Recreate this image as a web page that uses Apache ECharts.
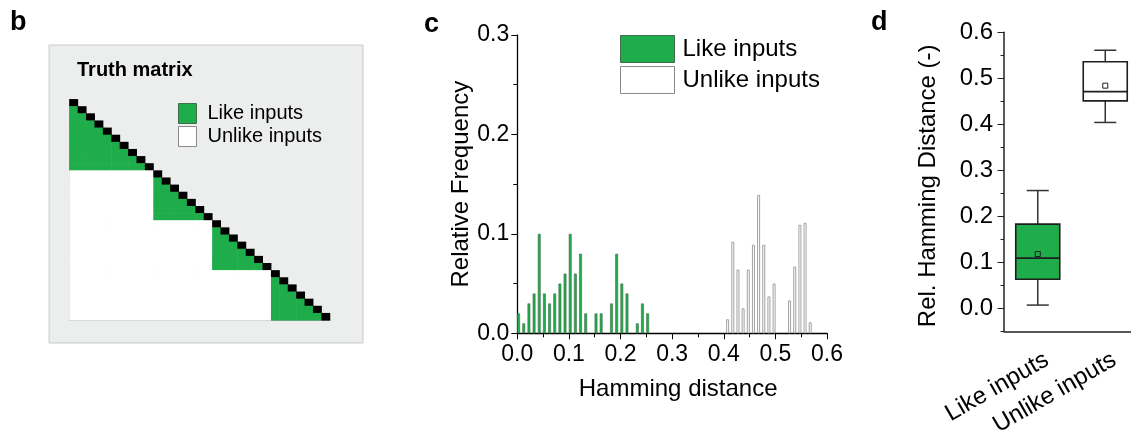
<!DOCTYPE html>
<html>
<head>
<meta charset="utf-8">
<script src="https://cdn.jsdelivr.net/npm/echarts@6/dist/echarts.min.js"></script>
<style>
  html, body { margin: 0; padding: 0; background: #fff; }
  #main { width: 1131px; height: 430px; }
</style>
</head>
<body>
<div id="main"></div>
<script>
// b: truth matrix, size of each group of like inputs
const groupSizes = [10, 7, 7, 7];

// c: histogram of hamming distances (bin left edge, relative frequency)
const likeBins = [0.00, 0.01, 0.02, 0.03, 0.04, 0.05, 0.06, 0.07, 0.08, 0.09, 0.10, 0.11, 0.12,
  0.13, 0.14, 0.15, 0.16, 0.17, 0.18, 0.19, 0.20, 0.21, 0.22, 0.23, 0.24, 0.25];
const likeFreq = [0.02, 0.01, 0.03, 0.04, 0.10, 0.04, 0.03, 0.04, 0.05, 0.06, 0.10, 0.06, 0.08,
  0.02, 0, 0.02, 0.02, 0, 0.03, 0.08, 0.05, 0.04, 0, 0.01, 0.03, 0.02];
const unlikeBins = [0.40, 0.41, 0.42, 0.43, 0.44, 0.45, 0.46, 0.47, 0.48, 0.49, 0.50, 0.51,
  0.52, 0.53, 0.54, 0.55, 0.56];
const unlikeFreq = [0.014, 0.092, 0.064, 0.025, 0.064, 0.089, 0.139, 0.089, 0.037, 0.050, 0, 0,
  0.033, 0.067, 0.109, 0.111, 0.011];

// d: box plot  [min, Q1, median, Q3, max] and mean
const boxCategories = ['Like inputs', 'Unlike inputs'];
const boxStats = [
  [0.007, 0.063, 0.109, 0.183, 0.256],
  [0.404, 0.451, 0.471, 0.536, 0.561]
];
const boxMeans = [0.118, 0.484];

const GREEN = '#1fad4b';
const FONT = 'Liberation Sans, Arial, sans-serif';
const BAR_HALF = 0.0025; // bars take the left half (like) / right half (unlike) of a bin

// build the lower triangle of the truth matrix
const N = groupSizes.reduce((a, b) => a + b, 0);
const groupOf = [];
groupSizes.forEach((s, g) => { for (let k = 0; k < s; k++) groupOf.push(g); });
const matrixData = [];
for (let i = 0; i < N; i++) {
  for (let j = 0; j <= i; j++) {
    let v = 0;
    if (i === j) v = 2;
    else if (groupOf[i] === groupOf[j]) v = 1;
    matrixData.push([j, i, v]);
  }
}
const idx = Array.from({ length: N }, (_, k) => k);

const likeData = likeBins.map((b, k) => [b + BAR_HALF, likeFreq[k]]).filter(d => d[1] > 0);
const unlikeData = unlikeBins.map((b, k) => [b + 3 * BAR_HALF, unlikeFreq[k]]).filter(d => d[1] > 0);
const boxData = boxStats.map((s, k) => [k].concat(s, [boxMeans[k]]));

const chart = echarts.init(document.getElementById('main'));

const hidden = { show: false };
const dTop = 32.3;

const option = {
  animation: false,
  textStyle: { fontFamily: FONT, color: '#000' },
  graphic: [
    { type: 'rect', z: -10, shape: { x: 49, y: 45, width: 314, height: 298 },
      style: { fill: '#eceeed', stroke: '#c9cbca', lineWidth: 1 } },
    { type: 'text', left: 77, top: 60, style: { text: 'Truth matrix', font: 'bold 20px ' + FONT, fill: '#000' } },
    { type: 'text', left: 10, top: 9, style: { text: 'b', font: 'bold 27px ' + FONT, fill: '#000' } },
    { type: 'text', left: 424, top: 11, style: { text: 'c', font: 'bold 27px ' + FONT, fill: '#000' } },
    { type: 'text', left: 871, top: 9, style: { text: 'd', font: 'bold 27px ' + FONT, fill: '#000' } }
  ],
  legend: [
    {
      data: ['Like inputs', 'Unlike inputs'],
      orient: 'vertical', left: 620, top: 35, padding: 0,
      itemWidth: 54, itemHeight: 27, itemGap: 3, icon: 'rect',
      itemStyle: { borderWidth: 1 },
      textStyle: { fontSize: 24, fontFamily: FONT, color: '#000', padding: [0, 0, 0, 3] }
    },
    {
      data: ['Like inputs', 'Unlike inputs'],
      orient: 'vertical', left: 178, top: 103, padding: 0,
      itemWidth: 18, itemHeight: 20, itemGap: 2, icon: 'rect',
      itemStyle: { borderWidth: 1 },
      textStyle: { fontSize: 20, fontFamily: FONT, color: '#000', padding: [0, 0, 0, 6] }
    }
  ],
  visualMap: {
    type: 'piecewise', show: false, seriesIndex: 0, dimension: 2,
    pieces: [
      { value: 0, color: '#ffffff' },
      { value: 1, color: GREEN },
      { value: 2, color: '#000000' }
    ]
  },
  grid: [
    { left: 69.5, top: 99.3, width: 260.5, height: 221, outerBoundsMode: 'none' },
    { left: 517.3, top: 35, width: 309.7, height: 298.3, outerBoundsMode: 'none' },
    // d: box plot, y from -0.05 to 0.6
    { left: 1004, top: dTop, width: 135, height: 299, outerBoundsMode: 'none' },
    // d: major ticks and labels, y from 0 to 0.6
    { left: 1004, top: dTop, width: 135, height: 276, outerBoundsMode: 'none' },
    // d: category labels, drawn a little right of the ticks
    { left: 1013, top: dTop, width: 135, height: 299, outerBoundsMode: 'none' }
  ],
  xAxis: [
    {
      gridIndex: 0, type: 'category', data: idx,
      axisLine: { lineStyle: { color: '#a8a8a8', width: 1 } },
      axisTick: hidden, axisLabel: hidden, splitLine: hidden
    },
    {
      gridIndex: 1, type: 'value', min: 0, max: 0.6, interval: 0.1,
      name: 'Hamming distance', nameLocation: 'middle', nameGap: 44,
      nameTextStyle: { fontSize: 24, color: '#000', padding: [0, 0, 0, 12] },
      axisLine: { lineStyle: { color: '#000', width: 1.3 } },
      axisTick: { length: 6, lineStyle: { color: '#000' } },
      minorTick: { show: true, splitNumber: 2, length: 4, lineStyle: { color: '#000' } },
      axisLabel: { fontSize: 23, color: '#000', margin: 10, formatter: v => v.toFixed(1) },
      splitLine: hidden
    },
    {
      gridIndex: 2, type: 'category', data: boxCategories,
      axisLine: { onZero: false, lineStyle: { color: '#222', width: 1.5 } },
      axisTick: { alignWithLabel: true, length: 6, lineStyle: { color: '#222' } },
      axisLabel: hidden
    },
    { gridIndex: 3, type: 'category', data: boxCategories, show: false },
    {
      gridIndex: 4, type: 'category', data: boxCategories,
      axisLine: { show: false, onZero: false }, axisTick: hidden,
      axisLabel: { fontSize: 24, color: '#000', rotate: 30, margin: 27 }
    }
  ],
  yAxis: [
    {
      gridIndex: 0, type: 'category', data: idx, inverse: true,
      axisLine: { lineStyle: { color: '#a8a8a8', width: 1 } },
      axisTick: hidden, axisLabel: hidden, splitLine: hidden
    },
    {
      gridIndex: 1, type: 'value', min: 0, max: 0.3, interval: 0.1,
      name: 'Relative Frequency', nameLocation: 'middle', nameGap: 43,
      nameTextStyle: { fontSize: 24, color: '#000' },
      axisLine: { show: true, lineStyle: { color: '#000', width: 1.3 } },
      axisTick: { show: true, length: 6, lineStyle: { color: '#000' } },
      minorTick: { show: true, splitNumber: 2, length: 4, lineStyle: { color: '#000' } },
      axisLabel: { fontSize: 23, color: '#000', margin: 8, formatter: v => v.toFixed(1) },
      splitLine: hidden
    },
    {
      gridIndex: 2, type: 'value', min: -0.05, max: 0.6, interval: 0.05,
      name: 'Rel. Hamming Distance (-)', nameLocation: 'middle', nameGap: 64,
      nameTextStyle: { fontSize: 24, color: '#000', padding: [0, 8, 0, 0] },
      axisLine: { show: true, onZero: false, lineStyle: { color: '#222', width: 1.5 } },
      axisTick: { show: true, length: 3.5, lineStyle: { color: '#222' } },
      axisLabel: hidden,
      splitLine: hidden
    },
    {
      gridIndex: 3, type: 'value', min: 0, max: 0.6, interval: 0.1,
      axisLine: { show: false, onZero: false },
      axisTick: { show: true, length: 6.5, lineStyle: { color: '#222' } },
      axisLabel: { fontSize: 24, color: '#000', margin: 11, formatter: v => v.toFixed(1) },
      splitLine: hidden
    },
    { gridIndex: 4, type: 'value', min: -0.05, max: 0.6, show: false }
  ],
  series: [
    {
      type: 'heatmap', xAxisIndex: 0, yAxisIndex: 0, data: matrixData
    },
    {
      name: 'Like inputs', type: 'bar', xAxisIndex: 1, yAxisIndex: 1,
      data: likeData, barWidth: 2.8, barGap: '-100%',
      itemStyle: { color: GREEN, borderColor: '#3f6e4c', borderWidth: 0.6 }
    },
    {
      name: 'Unlike inputs', type: 'bar', xAxisIndex: 1, yAxisIndex: 1,
      data: unlikeData, barWidth: 2.8, barGap: '-100%',
      itemStyle: { color: '#ffffff', borderColor: '#8a8a8a', borderWidth: 0.8 }
    },
    {
      type: 'custom', xAxisIndex: 2, yAxisIndex: 2, data: boxData, clip: false,
      encode: { x: 0, y: [1, 2, 3, 4, 5, 6] },
      renderItem: function (params, api) {
        const i = api.value(0);
        const cx = api.coord([i, 0])[0];
        const y = k => api.coord([i, api.value(k)])[1];
        const bw = 44, cw = 22, ms = 5;
        const stroke = '#1e1e1e';
        const fill = i === 0 ? GREEN : '#ffffff';
        const line = (x1, y1, x2, y2) => ({
          type: 'line', shape: { x1, y1, x2, y2 },
          style: { stroke: '#333', lineWidth: 1.5 }
        });
        return {
          type: 'group',
          children: [
            line(cx, y(1), cx, y(2)),
            line(cx, y(4), cx, y(5)),
            line(cx - cw / 2, y(1), cx + cw / 2, y(1)),
            line(cx - cw / 2, y(5), cx + cw / 2, y(5)),
            { type: 'rect', shape: { x: cx - bw / 2, y: y(4), width: bw, height: y(2) - y(4) },
              style: { fill, stroke, lineWidth: 1.6 } },
            { type: 'line', shape: { x1: cx - bw / 2, y1: y(3), x2: cx + bw / 2, y2: y(3) },
              style: { stroke, lineWidth: 1.6 } },
            { type: 'rect', shape: { x: cx - ms / 2, y: y(6) - ms / 2, width: ms, height: ms },
              style: { fill: 'none', stroke, lineWidth: 1 } }
          ]
        };
      }
    }
  ]
};

chart.setOption(option);
</script>
</body>
</html>
